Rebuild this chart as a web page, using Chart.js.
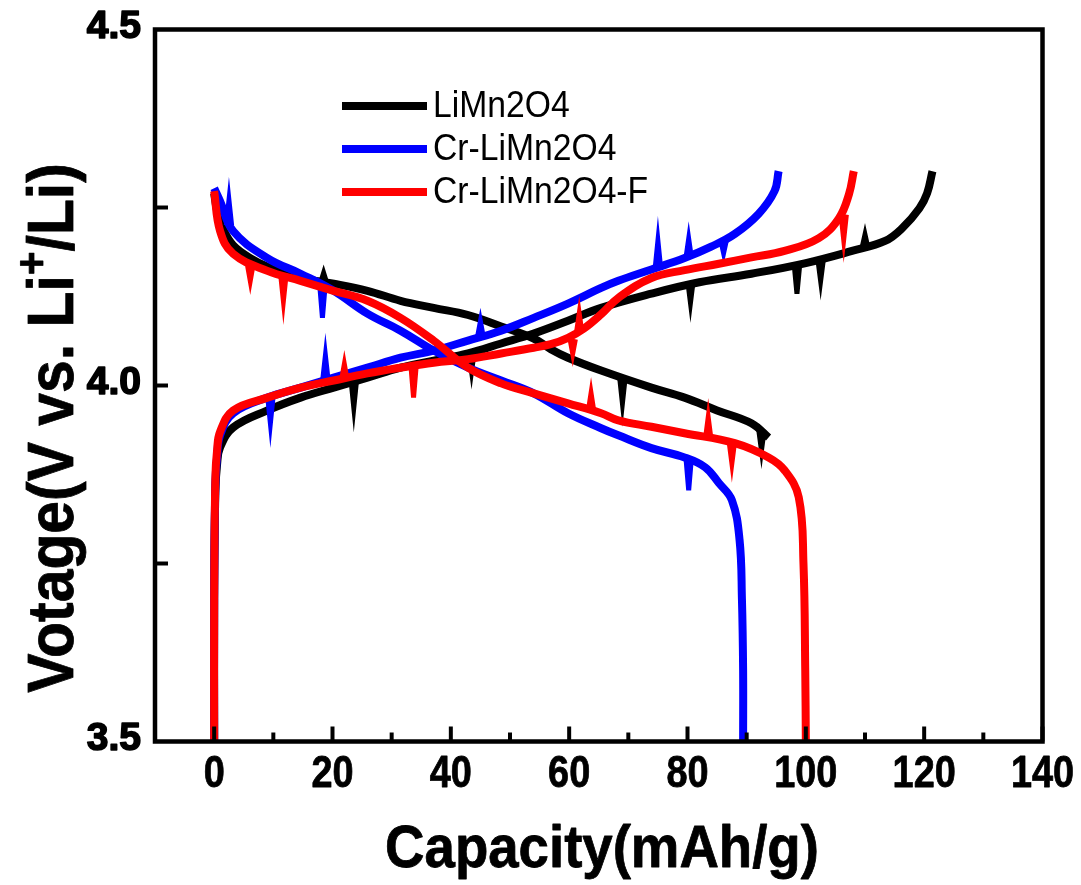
<!DOCTYPE html>
<html>
<head>
<meta charset="utf-8">
<script src="https://cdn.jsdelivr.net/npm/chart.js@4"></script>
<style>
html, body { margin: 0; padding: 0; background: #fff; }
#wrap { width: 1081px; height: 885px; }
</style>
</head>
<body>
<div id="wrap"><canvas id="grafik" width="1081" height="885"></canvas></div>
<script>
// sumbu
const xMajor = [0, 20, 40, 60, 80, 100, 120, 140];
const xMinor = [10, 30, 50, 70, 90, 110, 130];
const yTicks = [4.25, 4.0, 3.75];
const yLabels = [4.5, 4.0, 3.5];

const seriesNames = ['LiMn2O4', 'Cr-LiMn2O4', 'Cr-LiMn2O4-F'];
const seriesColors = ['#000000', '#0000ff', '#ff0000'];

// LiMn2O4
const blkChgCap = [0, 0, 0.2, 0.5, 1, 3.2, 9, 14.6, 20.2, 25.9, 31.5, 37.1, 42.9, 48.5, 54, 59.8, 65.4, 73.9, 82, 90.8, 100, 107.8, 113.4, 116.3, 119.2, 120.5, 121.4];
const blkChgV   = [3.5, 3.7, 3.85, 3.89, 3.913, 3.941, 3.965, 3.983, 3.997, 4.011, 4.025, 4.035, 4.045, 4.059, 4.073, 4.091, 4.109, 4.129, 4.145, 4.157, 4.172, 4.189, 4.203, 4.221, 4.249, 4.27, 4.301];
const blkDisCap = [0, 0.5, 1.5, 3.2, 6.1, 9, 14.6, 20.2, 25.9, 31.5, 37.1, 42.9, 48.5, 54, 56.9, 59.8, 65.4, 73.9, 79.5, 85, 90.8, 93.7];
const blkDisV   = [4.27, 4.245, 4.22, 4.197, 4.179, 4.167, 4.151, 4.143, 4.133, 4.119, 4.109, 4.099, 4.083, 4.066, 4.051, 4.039, 4.021, 3.997, 3.983, 3.965, 3.947, 3.927];

// Cr-LiMn2O4
const bluChgCap = [0, 0, 0.2, 0.5, 1, 3.2, 9, 14.6, 20.2, 25.9, 31.5, 37.1, 42.9, 48.5, 54, 59.8, 65.4, 68.3, 73.9, 79.5, 84, 88, 92, 94.7, 95.4];
const bluChgV   = [3.5, 3.7, 3.86, 3.9, 3.93, 3.961, 3.983, 3.997, 4.011, 4.025, 4.039, 4.049, 4.063, 4.077, 4.095, 4.115, 4.137, 4.147, 4.163, 4.179, 4.195, 4.213, 4.241, 4.273, 4.301];
const bluDisCap = [0, 1, 3.2, 9, 14.6, 20.2, 25.9, 31.5, 37.1, 42.9, 48.5, 54, 59.8, 65.4, 68.3, 73.9, 79.5, 83, 85.3, 87.5, 88.8, 89.2, 89.4, 89.4];
const bluDisV   = [4.277, 4.259, 4.217, 4.179, 4.157, 4.133, 4.101, 4.077, 4.049, 4.025, 4.007, 3.989, 3.961, 3.94, 3.93, 3.912, 3.899, 3.885, 3.863, 3.839, 3.783, 3.70, 3.6, 3.5];

// Cr-LiMn2O4-F
const redChgCap = [0, 0, 0.2, 0.5, 1, 3.2, 9, 14.6, 20.2, 25.9, 31.5, 37.1, 42.9, 48.5, 54, 56.9, 59.8, 62.5, 65.4, 68.3, 73.9, 79.5, 85.3, 90.8, 96.4, 102.2, 105.6, 107.3, 108.1];
const redChgV   = [3.5, 3.7, 3.87, 3.91, 3.935, 3.965, 3.983, 3.997, 4.007, 4.017, 4.025, 4.032, 4.037, 4.045, 4.053, 4.058, 4.067, 4.08, 4.1, 4.123, 4.151, 4.162, 4.171, 4.18, 4.189, 4.207, 4.235, 4.269, 4.301];
const redDisCap = [0, 1, 3.2, 9, 14.6, 20.2, 25.9, 31.5, 37.1, 42.9, 48.5, 54, 59.8, 65.4, 68.3, 73.9, 79.5, 88, 93.7, 96.4, 98.8, 99.6, 99.9, 100];
const redDisV   = [4.273, 4.217, 4.185, 4.161, 4.147, 4.133, 4.119, 4.095, 4.063, 4.025, 4.003, 3.989, 3.975, 3.961, 3.951, 3.942, 3.933, 3.919, 3.899, 3.881, 3.843, 3.75, 3.6, 3.5];

// lonjakan derau pada kurva: posisi, nilai dasar, ujung
const blkSpikeCap  = [23.6, 43.5, 80.5, 98.5, 102.5, 110, 69, 92.5, 18.5];
const blkSpikeBase = [4.006, 4.047, 4.146, 4.168, 4.176, 4.195, 4.010, 3.937, 4.146];
const blkSpikeTip  = [3.969, 4.02, 4.116, 4.129, 4.147, 4.212, 3.975, 3.909, 4.158];
const bluSpikeCap  = [9.5, 18.8, 45, 75, 80.2, 86.1, 18.3, 80.2, 2.5];
const bluSpikeBase = [3.984, 4.008, 4.07, 4.166, 4.18, 4.203, 4.14, 3.897, 4.225];
const bluSpikeTip  = [3.947, 4.042, 4.09, 4.203, 4.206, 4.186, 4.095, 3.853, 4.26];
const redSpikeCap  = [22, 33.7, 60.6, 61.7, 106.4, 6.1, 11.7, 63.7, 83.5, 87.5];
const redSpikeBase = [4.009, 4.028, 4.065, 4.075, 4.24, 4.168, 4.155, 3.965, 3.926, 3.92];
const redSpikeTip  = [4.03, 3.983, 4.045, 4.101, 4.205, 4.147, 4.119, 3.989, 3.955, 3.891];

function toXY(caps, volts) {
    return caps.map((c, i) => ({ x: c, y: volts[i] }));
}

function toSpikes(caps, base, tip) {
    const out = [];
    caps.forEach((c, i) => {
        out.push({ x: c - 0.45, y: base[i] }, { x: c, y: tip[i] }, { x: c + 0.45, y: base[i] }, { x: c, y: null });
    });
    return out;
}

function kurva(data, warna, urut) {
    return {
        data: data,
        borderColor: warna,
        borderWidth: 8,
        showLine: true,
        pointRadius: 0,
        tension: 0.4,
        order: urut
    };
}

function lonjakan(data, warna, urut) {
    return {
        data: data,
        borderColor: warna,
        borderWidth: 5,
        borderJoinStyle: 'miter',
        showLine: true,
        spanGaps: false,
        pointRadius: 0,
        tension: 0,
        order: urut
    };
}

// teks dengan skala horizontal (font aslinya agak rapat)
function tulis(ctx, teks, x, y, font, sx, align, tebal) {
    ctx.save();
    ctx.font = font;
    ctx.textBaseline = 'alphabetic';
    ctx.textAlign = 'left';
    const w = ctx.measureText(teks).width * sx;
    let x0 = x;
    if (align === 'center') x0 = x - w / 2;
    if (align === 'right') x0 = x - w;
    ctx.translate(x0, y);
    ctx.scale(sx, 1);
    ctx.fillText(teks, 0, 0);
    if (tebal) {
        ctx.lineWidth = tebal;
        ctx.lineJoin = 'round';
        ctx.strokeStyle = ctx.fillStyle;
        ctx.strokeText(teks, 0, 0);
    }
    ctx.restore();
}

const FONT = '"Liberation Sans", Arial, sans-serif';

const bingkai = {
    id: 'bingkai',
    afterDatasetsDraw(chart) {
        const { ctx, chartArea: a, scales: { x, y } } = chart;
        ctx.save();
        ctx.strokeStyle = '#000';
        ctx.fillStyle = '#000';
        ctx.lineCap = 'butt';

        // ticks ke dalam
        ctx.lineWidth = 4;
        yTicks.forEach(v => {
            const py = y.getPixelForValue(v);
            ctx.beginPath(); ctx.moveTo(a.left, py); ctx.lineTo(a.left + 13, py); ctx.stroke();
        });
        xMajor.forEach(v => {
            const px = x.getPixelForValue(v);
            ctx.beginPath(); ctx.moveTo(px, a.bottom); ctx.lineTo(px, a.bottom - 15); ctx.stroke();
        });
        xMinor.forEach(v => {
            const px = x.getPixelForValue(v);
            ctx.beginPath(); ctx.moveTo(px, a.bottom); ctx.lineTo(px, a.bottom - 9); ctx.stroke();
        });

        ctx.lineWidth = 4.5;
        ctx.strokeRect(a.left, a.top, a.right - a.left, a.bottom - a.top);

        // label tick
        yLabels.forEach(v => {
            tulis(ctx, v.toFixed(1), 141, y.getPixelForValue(v) + 8, 'bold 39px ' + FONT, 1, 'right', 1.6);
        });
        xMajor.forEach(v => {
            tulis(ctx, String(v), x.getPixelForValue(v), 787, 'bold 44px ' + FONT, 0.86, 'center', 0.8);
        });

        // judul sumbu x
        tulis(ctx, 'Capacity(mAh/g)', 602, 867, 'bold 60px ' + FONT, 0.91, 'center', 0.8);

        // judul sumbu y (dengan superscript +)
        const fBig = 'bold 64px ' + FONT;
        const fSup = 'bold 44px ' + FONT;
        const sx = 0.92;
        ctx.font = fBig;
        const w1 = ctx.measureText('Votage(V vs. Li').width * sx;
        const w3 = ctx.measureText('/Li)').width * sx;
        ctx.font = fSup;
        const w2 = ctx.measureText('+').width * sx;
        const total = w1 + w2 + w3;
        ctx.save();
        ctx.translate(73, 428);
        ctx.rotate(-Math.PI / 2);
        tulis(ctx, 'Votage(V vs. Li', -total / 2, 0, fBig, sx, 'left', 0.8);
        tulis(ctx, '+', -total / 2 + w1, -26, fSup, sx, 'left', 0.8);
        tulis(ctx, '/Li)', -total / 2 + w1 + w2, 0, fBig, sx, 'left', 0.8);
        ctx.restore();

        // legenda
        seriesNames.forEach((nama, i) => {
            const ly = 106 + i * 43;
            ctx.strokeStyle = seriesColors[i];
            ctx.lineWidth = 8;
            ctx.beginPath(); ctx.moveTo(342, ly); ctx.lineTo(427, ly); ctx.stroke();
            ctx.fillStyle = '#000';
            tulis(ctx, nama, 433, ly + 11, '37px ' + FONT, 0.91, 'left');
        });
        ctx.restore();
    }
};

const grafik = new Chart(document.getElementById('grafik'), {
    type: 'scatter',
    data: {
        datasets: [
            lonjakan(toSpikes(redSpikeCap, redSpikeBase, redSpikeTip), seriesColors[2], 0),
            kurva(toXY(redDisCap, redDisV), seriesColors[2], 0),
            kurva(toXY(redChgCap, redChgV), seriesColors[2], 0),
            lonjakan(toSpikes(bluSpikeCap, bluSpikeBase, bluSpikeTip), seriesColors[1], 1),
            kurva(toXY(bluDisCap, bluDisV), seriesColors[1], 1),
            kurva(toXY(bluChgCap, bluChgV), seriesColors[1], 1),
            lonjakan(toSpikes(blkSpikeCap, blkSpikeBase, blkSpikeTip), seriesColors[0], 2),
            kurva(toXY(blkDisCap, blkDisV), seriesColors[0], 2),
            kurva(toXY(blkChgCap, blkChgV), seriesColors[0], 2)
        ]
    },
    options: {
        responsive: false,
        animation: false,
        devicePixelRatio: 1,
        layout: { padding: { left: 155, top: 29.5, right: 38.5, bottom: 143.5 } },
        plugins: { legend: { display: false }, tooltip: { enabled: false } },
        scales: {
            x: { type: 'linear', min: -10, max: 140, display: false },
            y: { type: 'linear', min: 3.5, max: 4.5, display: false }
        }
    },
    plugins: [bingkai]
});
</script>
</body>
</html>
